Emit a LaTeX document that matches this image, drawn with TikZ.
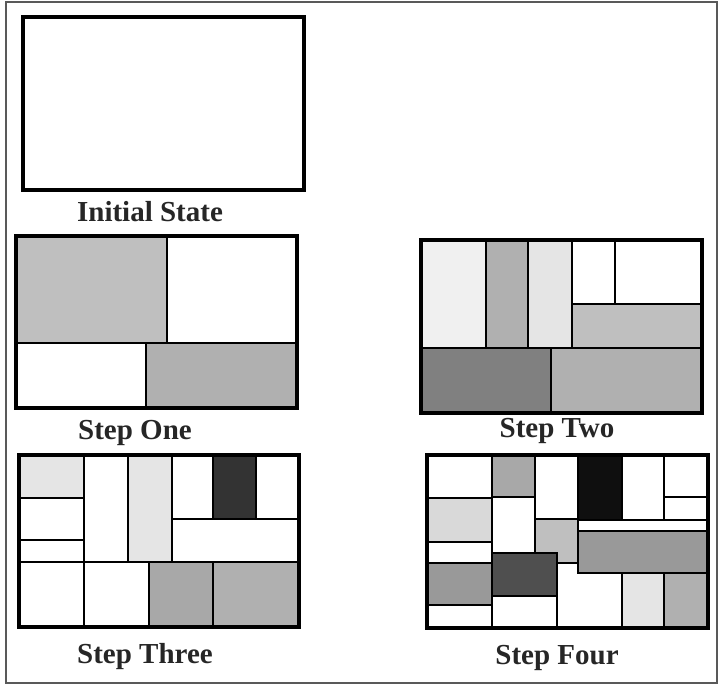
\documentclass[tikz,border=0pt]{standalone}
\usepackage{fontspec}
\setmainfont{Liberation Serif}

\definecolor{g1}{gray}{0.94}
\definecolor{g2}{gray}{0.90}
\definecolor{g3}{gray}{0.85}
\definecolor{g4}{gray}{0.75}
\definecolor{g5}{gray}{0.69}
\definecolor{g6}{gray}{0.66}
\definecolor{g7}{gray}{0.60}
\definecolor{g8}{gray}{0.50}
\definecolor{g9}{gray}{0.31}
\definecolor{g10}{gray}{0.20}
\definecolor{g11}{gray}{0.06}
\definecolor{framegray}{gray}{0.35}

\tikzset{
  cell/.style={draw=black, line width=2.5pt, line join=miter},
  outline/.style={draw=black, line width=3.2pt, line join=miter},
  steplab/.style={font=\bfseries\fontsize{29}{32}\selectfont, text=black!85, inner sep=0pt}
}

\begin{document}
\begin{tikzpicture}[x=1pt,y=-1pt]

\useasboundingbox (0,0) rectangle (722,687);

% 外框
\draw[framegray, line width=2pt] (6,2) rectangle (717,683);

% 初始状态
\draw[outline, line width=3.8pt] (23,17) rectangle (304,190);
\node[steplab] (lab0) at (150,212) {Initial State};

% 第一步
\draw[cell, fill=g4]    (16,236) rectangle (167,343);
\draw[cell, fill=white] (167,236) rectangle (297,343);
\draw[cell, fill=white] (16,343) rectangle (146,408);
\draw[cell, fill=g5]    (146,343) rectangle (297,408);
\draw[outline] (16,236) rectangle (297,408);
\node[steplab] (lab1) at (135,433) {Step One};

% 第二步
\draw[cell, fill=g1]    (421,240) rectangle (486,348);
\draw[cell, fill=g5]    (486,240) rectangle (528,348);
\draw[cell, fill=g2]    (528,240) rectangle (572,348);
\draw[cell, fill=white] (572,240) rectangle (615,304);
\draw[cell, fill=white] (615,240) rectangle (702,304);
\draw[cell, fill=g4]    (572,304) rectangle (702,348);
\draw[cell, fill=g8]    (421,348) rectangle (551,413);
\draw[cell, fill=g5]    (551,348) rectangle (702,413);
\draw[outline] (421,240) rectangle (702,413);
\node[steplab] (lab2) at (557,431) {Step Two};

% 第三步
\draw[cell, fill=g2]    (19,455) rectangle (84,498);
\draw[cell, fill=white] (19,498) rectangle (84,540);
\draw[cell, fill=white] (19,540) rectangle (84,562);
\draw[cell, fill=white] (84,455) rectangle (128,562);
\draw[cell, fill=g2]    (128,455) rectangle (172,562);
\draw[cell, fill=white] (172,455) rectangle (213,519);
\draw[cell, fill=g10]   (213,455) rectangle (256,519);
\draw[cell, fill=white] (256,455) rectangle (299,519);
\draw[cell, fill=white] (172,519) rectangle (299,562);
\foreach \xa/\xb/\c in {19/84/white, 84/149/white, 149/213/g6, 213/299/g5}
  \draw[cell, fill=\c] (\xa,562) rectangle (\xb,627);
\draw[outline] (19,455) rectangle (299,627);
\node[steplab] (lab3) at (145,657) {Step Three};

% 第四步
% 左列
\draw[cell, fill=white] (427,455) rectangle (492,498);
\draw[cell, fill=g3]    (427,498) rectangle (492,542);
\draw[cell, fill=white] (427,542) rectangle (492,563);
\draw[cell, fill=g7]    (427,563) rectangle (492,605);
\draw[cell, fill=white] (427,605) rectangle (492,628);
% 中间
\draw[cell, fill=g6]    (492,455) rectangle (535,497);
\draw[cell, fill=white] (492,497) rectangle (535,553);
\draw[cell, fill=white] (535,455) rectangle (578,519);
\draw[cell, fill=g4]    (535,519) rectangle (578,563);
\draw[cell, fill=white] (557,563) rectangle (622,628);
\draw[cell, fill=g9]    (492,553) rectangle (557,596);
\draw[cell, fill=white] (492,596) rectangle (557,628);
% 右侧
\draw[cell, fill=g11]   (578,455) rectangle (622,520);
\draw[cell, fill=white] (622,455) rectangle (664,520);
\draw[cell, fill=white] (664,455) rectangle (708,497);
\draw[cell, fill=white] (664,497) rectangle (708,520);
\draw[cell, fill=white] (578,520) rectangle (708,531);
\draw[cell, fill=g7]    (578,531) rectangle (708,573);
\draw[cell, fill=g2]    (622,573) rectangle (664,628);
\draw[cell, fill=g5]    (664,573) rectangle (708,628);
\draw[outline] (427,455) rectangle (708,628);
\node[steplab] (lab4) at (557,658) {Step Four};

\end{tikzpicture}
\end{document}
